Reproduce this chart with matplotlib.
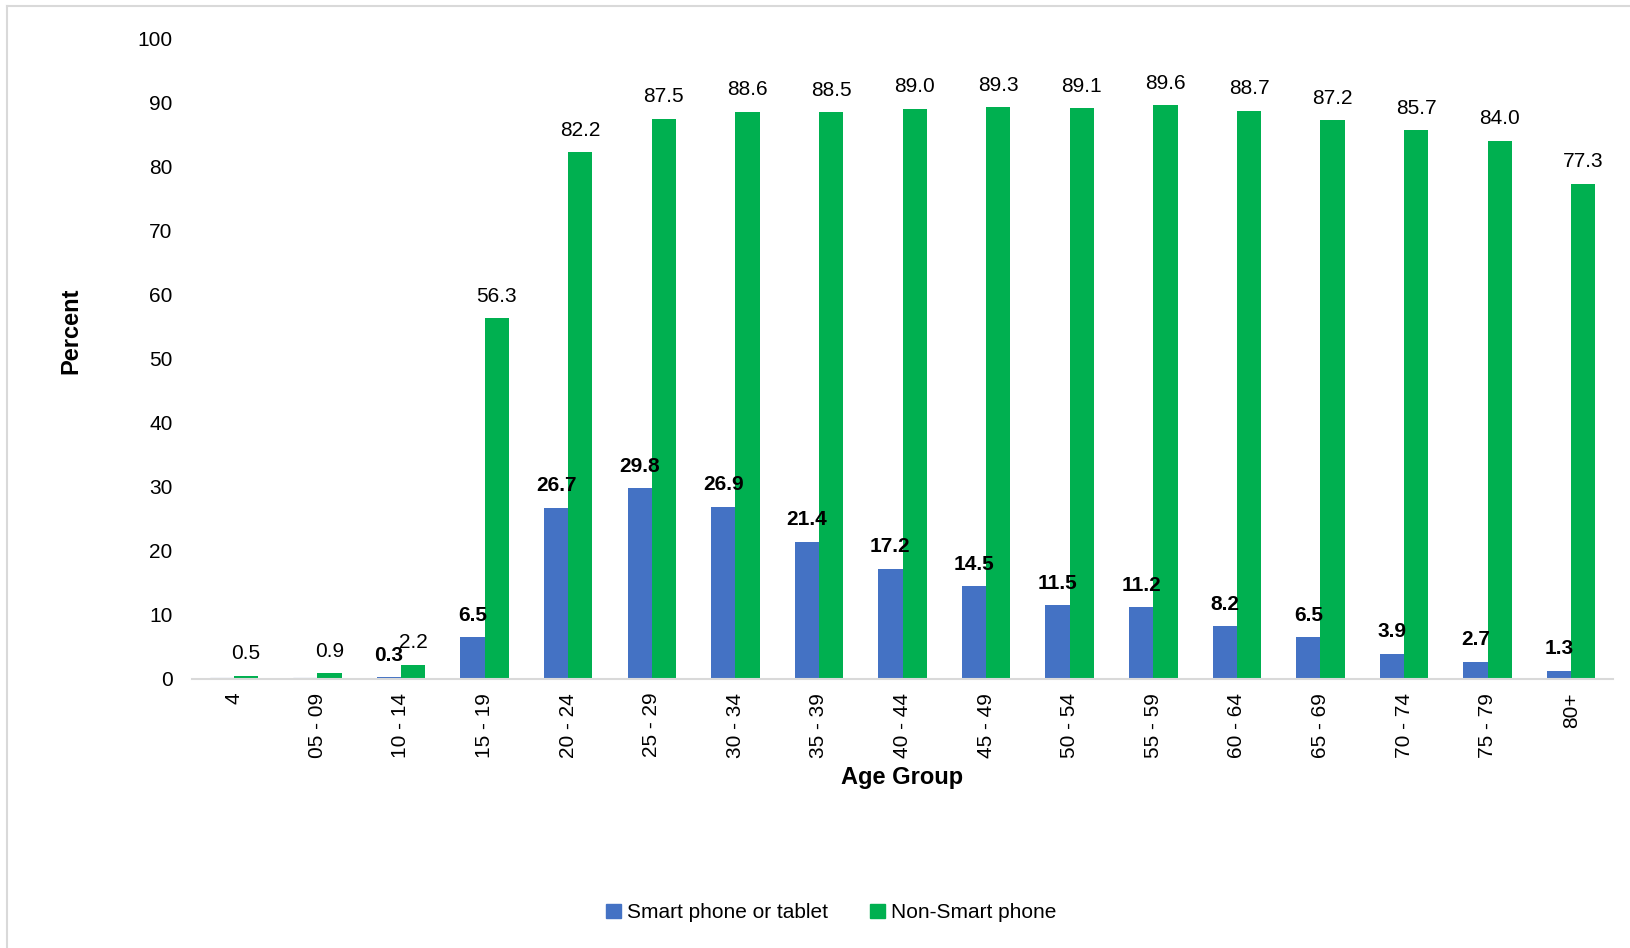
import matplotlib.pyplot as plt
import numpy as np
from matplotlib.lines import Line2D
from matplotlib.patches import Patch

plt.rcParams['font.family'] = ['Liberation Sans Narrow', 'Liberation Sans', 'DejaVu Sans']

age_groups = ['4', '05 - 09', '10 - 14', '15 - 19', '20 - 24', '25 - 29', '30 - 34',
              '35 - 39', '40 - 44', '45 - 49', '50 - 54', '55 - 59', '60 - 64',
              '65 - 69', '70 - 74', '75 - 79', '80+']
smart = [0.1, 0.1, 0.3, 6.5, 26.7, 29.8, 26.9, 21.4, 17.2, 14.5, 11.5, 11.2,
         8.2, 6.5, 3.9, 2.7, 1.3]
# first two smart values are shown without labels in the source chart
smart_labels = ['', '', '0.3', '6.5', '26.7', '29.8', '26.9', '21.4', '17.2', '14.5',
                '11.5', '11.2', '8.2', '6.5', '3.9', '2.7', '1.3']
non_smart = [0.5, 0.9, 2.2, 56.3, 82.2, 87.5, 88.6, 88.5, 89.0, 89.3, 89.1, 89.6,
             88.7, 87.2, 85.7, 84.0, 77.3]

blue = '#4472C4'
green = '#00B050'

fig = plt.figure(figsize=(16.3, 9.48), dpi=100)
ax = fig.add_axes([0.1178, 0.2838, 0.8718, 0.6756])

x = np.arange(len(age_groups))
w = 0.29
b1 = ax.bar(x - w/2, smart, w, color=blue)
b2 = ax.bar(x + w/2, non_smart, w, color=green)
# the near-zero bars at the start are drawn pale
for i in range(2):
    b1[i].set_color('#C9D3E8')

for i in range(len(age_groups)):
    if smart_labels[i]:
        ax.annotate(smart_labels[i], (x[i] - w/2, smart[i]), xytext=(0, 9),
                    textcoords='offset points', ha='center', va='bottom',
                    fontsize=15, fontweight='bold')
    ax.annotate('%.1f' % non_smart[i], (x[i] + w/2, non_smart[i]), xytext=(0, 9),
                textcoords='offset points', ha='center', va='bottom', fontsize=15)

ax.set_xlim(-0.5, len(age_groups) - 0.5)
ax.set_ylim(0, 100)
ax.set_yticks(range(0, 101, 10))
ax.set_xticks(x)
ax.set_xticklabels(age_groups, rotation=90)
ax.tick_params(axis='both', length=0, labelsize=15)
ax.tick_params(axis='y', pad=14)
ax.tick_params(axis='x', pad=10)
for s in ['top', 'right', 'left']:
    ax.spines[s].set_visible(False)
ax.spines['bottom'].set_color('#D9D9D9')
ax.spines['bottom'].set_linewidth(1.5)

ax.set_xlabel('Age Group', fontsize=17, fontweight='bold', labelpad=6)
ax.set_ylabel('Percent', fontsize=17, fontweight='bold', va='center')
ax.yaxis.set_label_coords(-0.0854, 0.544)

handles = [Patch(color=blue, label='Smart phone or tablet'),
           Patch(color=green, label='Non-Smart phone')]
fig.legend(handles=handles, loc='center', bbox_to_anchor=(0.51, 0.037), ncol=2,
           frameon=False, fontsize=15, handlelength=0.7, handleheight=0.7,
           handletextpad=0.3, columnspacing=2.0)

# chart area border
fig.add_artist(Line2D([0.0045, 0.0045], [0, 0.9935], transform=fig.transFigure,
                      color='#D9D9D9', lw=1.5))
fig.add_artist(Line2D([0.0045, 1], [0.9935, 0.9935], transform=fig.transFigure,
                      color='#D9D9D9', lw=1.5))

fig.savefig('out.png', dpi=100)
